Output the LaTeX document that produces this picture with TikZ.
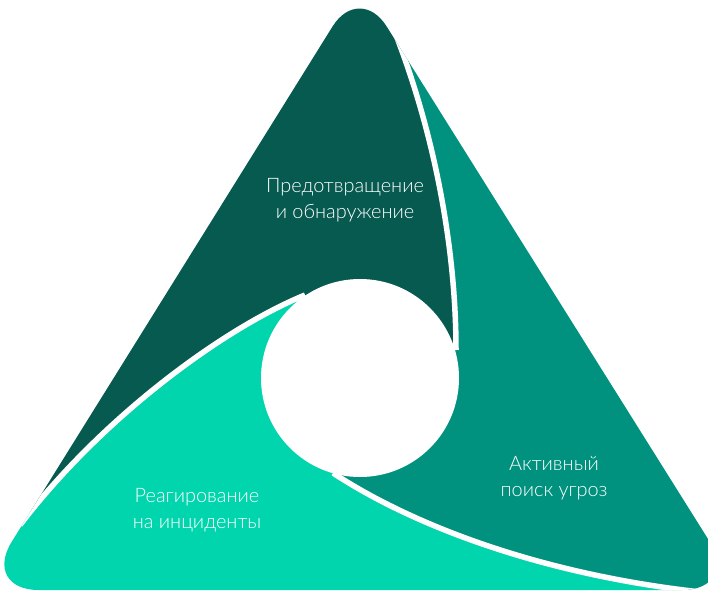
\documentclass[tikz,border=0pt]{standalone}
\usepackage{fontspec}
\setmainfont{Lato Light}
\usepackage{xcolor}
\usetikzlibrary{positioning}
\definecolor{preventgreen}{HTML}{065A50}
\definecolor{huntteal}{HTML}{00927F}
\definecolor{respondmint}{HTML}{00D5AD}

\begin{document}
\begin{tikzpicture}[x=1bp, y=-1bp,
    stagetext/.style={text=white, align=center, inner sep=0pt, font=\fontsize{20}{26.5}\selectfont},
    gapline/.style={draw=white, line width=5.5bp}]
    \useasboundingbox (0,0) rectangle (708,591);
    \coordinate (hub) at (360,378);
    \begin{scope}
        \clip (360,590) [rounded corners=58bp] -- (740,590) [rounded corners=51bp] -- (359.5,-16.8)
            [rounded corners=57bp] -- (-18.3,590) [sharp corners] -- cycle;
        \fill[preventgreen] (hub) -- (305,295) .. controls (220,330) and (100,420) .. (20,525) -- (-60,560) -- (-60,-60)
            -- (390,-60) -- (390,20) .. controls (435,130) and (456,250) .. (456,350) -- cycle;
        \fill[huntteal] (hub) -- (456,350) .. controls (456,250) and (435,130) .. (390,20) -- (390,-60) -- (800,-60)
            -- (800,640) -- (720,594) .. controls (550,578) and (415,527) .. (333,473) -- cycle;
        \fill[respondmint] (hub) -- (333,473) .. controls (415,527) and (550,578) .. (720,594) -- (800,640) -- (-60,640)
            -- (-60,560) -- (20,525) .. controls (100,420) and (220,330) .. (305,295) -- cycle;
        \draw[gapline] (305,295) .. controls (220,330) and (100,420) .. (20,525);
        \draw[gapline] (456,350) .. controls (456,250) and (435,130) .. (390,20);
        \draw[gapline] (333,473) .. controls (415,527) and (550,578) .. (720,594);
    \end{scope}
    \fill[white] (hub) circle[radius=99];

    \node[stagetext] (prevent) at (345,200) {Предотвращение\\и обнаружение};
    \node[stagetext] (hunt) at (554,478) {Активный\\поиск угроз};
    \node[stagetext] (respond) at (197,510) {Реагирование\\на инциденты};
\end{tikzpicture}
\end{document}
